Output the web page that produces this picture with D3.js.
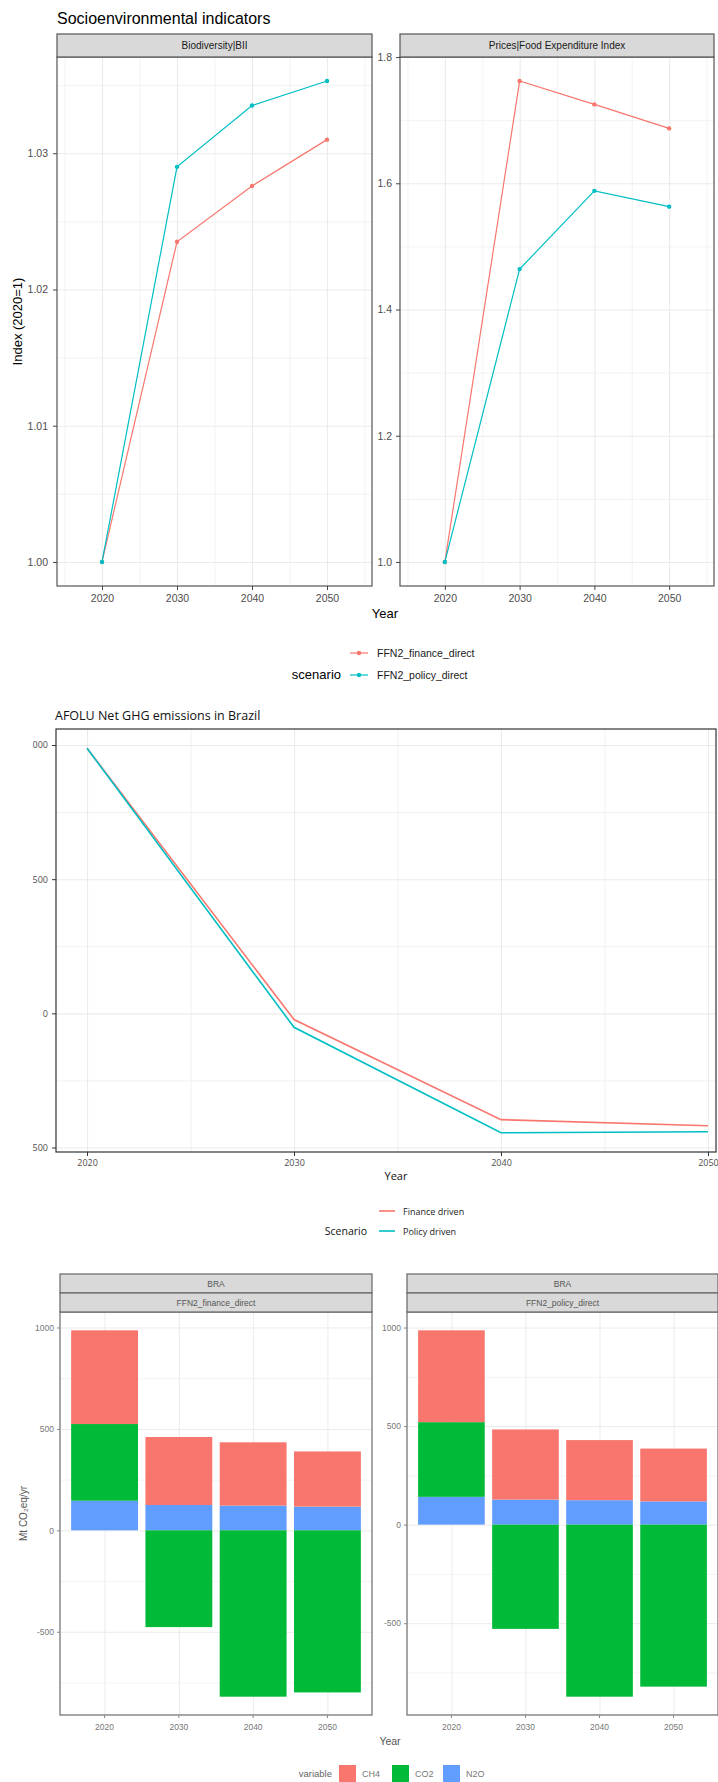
<!DOCTYPE html>
<html>
<head>
<meta charset="utf-8">
<script src="https://cdn.jsdelivr.net/npm/d3@7"></script>
<style>
  body { margin: 0; background: #fff; }
</style>
</head>
<body>
<script>
// ---- data ----
const years = [2020, 2030, 2040, 2050];
const scenarios = ["FFN2_finance_direct", "FFN2_policy_direct"];

const biiFinance = [1.0, 1.0235, 1.0276, 1.031];
const biiPolicy = [1.0, 1.029, 1.0335, 1.0353];
const biiTicks = [1.0, 1.01, 1.02, 1.03];

const foodFinance = [1.0, 1.762, 1.725, 1.687];
const foodPolicy = [1.0, 1.464, 1.588, 1.563];
const foodTicks = [1.0, 1.2, 1.4, 1.6, 1.8];

const ghgScenarios = ["Finance driven", "Policy driven"];
const ghgFinance = [988, -23, -396, -419];
const ghgPolicy = [988, -52, -445, -441];
const ghgTicks = [-500, 0, 500, 1000];

const gases = ["CH4", "CO2", "N2O"];
const financeCH4 = [462, 335, 312, 272];
const financeCO2 = [378, -477, -820, -799];
const financeN2O = [146, 125, 122, 117];
const policyCH4 = [466, 356, 305, 268];
const policyCO2 = [379, -529, -873, -822];
const policyN2O = [141, 127, 124, 118];
const barTicks = [-500, 0, 500, 1000];

const red = "#F8766D", teal = "#00BFC4";
const gasColor = { CH4: "#F8766D", CO2: "#00BA38", N2O: "#619CFF" };

const svg = d3.select("body").append("svg")
  .attr("width", 718)
  .attr("height", 1782);

const defs = svg.append("defs");

function expand(lo, hi, f) {
  const d = (hi - lo) * f;
  return [lo - d, hi + d];
}

// minor breaks halfway between majors (ggplot style)
function minorOf(ticks, dom) {
  const s = ticks[1] - ticks[0], out = [];
  for (let i = -1; i < ticks.length; i++) {
    const v = ticks[0] + s * (i + 0.5);
    if (v > Math.min(dom[0], dom[1]) && v < Math.max(dom[0], dom[1])) out.push(v);
  }
  return out;
}

function grid(g, scale, vals, dir, pos, len, w) {
  const ax = (dir === "x" ? d3.axisBottom(scale) : d3.axisLeft(scale))
    .tickValues(vals).tickFormat("").tickSizeInner(-len).tickSizeOuter(0);
  const gg = g.append("g")
    .attr("transform", dir === "x" ? "translate(0," + pos + ")" : "translate(" + pos + ",0)")
    .call(ax);
  gg.select(".domain").remove();
  gg.selectAll("line").attr("stroke", "#ebebeb").attr("stroke-width", w);
}

function axis(g, scale, vals, dir, pos, fmt, o) {
  const ax = (dir === "x" ? d3.axisBottom(scale) : d3.axisLeft(scale))
    .tickValues(vals).tickFormat(fmt).tickSizeInner(o.tick).tickSizeOuter(0).tickPadding(o.pad);
  const gg = g.append("g")
    .attr("transform", dir === "x" ? "translate(0," + pos + ")" : "translate(" + pos + ",0)")
    .call(ax);
  gg.select(".domain").remove();
  gg.attr("font-family", o.font).attr("font-size", o.size);
  gg.selectAll("line").attr("stroke", o.tickColor);
  gg.selectAll("text").attr("fill", o.color);
  return gg;
}

// ================= chart 1: Socioenvironmental indicators =================
const f1 = "'Liberation Sans', Arial, sans-serif";
const c1 = svg.append("g").attr("font-family", f1);

c1.append("text")
  .attr("x", 57).attr("y", 24)
  .attr("font-size", 16)
  .text("Socioenvironmental indicators");

const c1Panels = [
  { label: "Biodiversity|BII", finance: biiFinance, policy: biiPolicy, ticks: biiTicks, fmt: d3.format(".2f"), left: 57, right: 372, labPad: 5 },
  { label: "Prices|Food Expenditure Index", finance: foodFinance, policy: foodPolicy, ticks: foodTicks, fmt: d3.format(".1f"), left: 400, right: 714, labPad: 4 }
];
const c1Top = 57, c1Bottom = 586;

c1Panels.forEach(p => {
  const g = c1.append("g");
  const x = d3.scaleLinear().domain([2014, 2056]).range([p.left, p.right]);
  const all = p.finance.concat(p.policy);
  const yDom = expand(d3.min(all), d3.max(all), 0.05);
  const y = d3.scaleLinear().domain(yDom).range([c1Bottom, c1Top]);

  g.append("rect").attr("x", p.left).attr("y", c1Top)
    .attr("width", p.right - p.left).attr("height", c1Bottom - c1Top).attr("fill", "#fff");

  grid(g, y, minorOf(p.ticks, yDom), "y", p.left, p.right - p.left, 0.6);
  grid(g, x, minorOf(years, x.domain()), "x", c1Bottom, c1Bottom - c1Top, 0.6);
  grid(g, y, p.ticks, "y", p.left, p.right - p.left, 1.1);
  grid(g, x, years, "x", c1Bottom, c1Bottom - c1Top, 1.1);

  const line = d3.line().x((d, i) => x(years[i])).y(d => y(d));
  [[p.finance, red], [p.policy, teal]].forEach(([vals, col]) => {
    g.append("path").datum(vals)
      .attr("fill", "none").attr("stroke", col).attr("stroke-width", 1.2)
      .attr("d", line);
    g.selectAll(null).data(vals).enter().append("circle")
      .attr("cx", (d, i) => x(years[i])).attr("cy", d => y(d))
      .attr("r", 2.2).attr("fill", col);
  });

  g.append("rect").attr("x", p.left).attr("y", c1Top)
    .attr("width", p.right - p.left).attr("height", c1Bottom - c1Top)
    .attr("fill", "none").attr("stroke", "#555").attr("stroke-width", 1.2);

  // strip
  g.append("rect").attr("x", p.left).attr("y", 34)
    .attr("width", p.right - p.left).attr("height", c1Top - 34)
    .attr("fill", "#d9d9d9").attr("stroke", "#555").attr("stroke-width", 1.2);
  g.append("text").attr("x", (p.left + p.right) / 2).attr("y", 49)
    .attr("text-anchor", "middle").attr("font-size", 10).attr("fill", "#1a1a1a")
    .text(p.label);

  const opt = { tick: 4, pad: p.labPad, font: f1, size: 10.5, tickColor: "#444", color: "#4d4d4d" };
  axis(g, y, p.ticks, "y", p.left, p.fmt, opt);
  axis(g, x, years, "x", c1Bottom, d3.format("d"), { ...opt, pad: 5 });
});

c1.append("text").attr("x", 385).attr("y", 618)
  .attr("text-anchor", "middle").attr("font-size", 13).text("Year");
c1.append("text")
  .attr("transform", "translate(22," + (c1Top + c1Bottom) / 2 + ") rotate(-90)")
  .attr("text-anchor", "middle").attr("font-size", 13).text("Index (2020=1)");

// legend
c1.append("text").attr("x", 341).attr("y", 679)
  .attr("text-anchor", "end").attr("font-size", 13).text("scenario");
scenarios.forEach((s, i) => {
  const yy = 653 + i * 22, col = [red, teal][i];
  c1.append("line").attr("x1", 350).attr("x2", 368).attr("y1", yy).attr("y2", yy)
    .attr("stroke", col).attr("stroke-width", 1.2);
  c1.append("circle").attr("cx", 359).attr("cy", yy).attr("r", 2.2).attr("fill", col);
  c1.append("text").attr("x", 377).attr("y", yy + 4)
    .attr("font-size", 10.5).attr("fill", "#1a1a1a").text(s);
});

// ================= chart 2: AFOLU Net GHG emissions =================
const f2 = "'Open Sans', 'Noto Sans', sans-serif";
const c2 = svg.append("g").attr("font-family", f2);
const p2 = { left: 56, right: 716, top: 729, bottom: 1152 };

c2.append("text").attr("x", 55).attr("y", 720)
  .attr("font-size", 12.5).attr("fill", "#111")
  .text("AFOLU Net GHG emissions in Brazil");

const x2 = d3.scaleLinear().domain([2018.5, 2051.5]).range([56, 739]);
const ghgAll = ghgFinance.concat(ghgPolicy);
const y2Dom = expand(d3.min(ghgAll), d3.max(ghgAll), 0.05);
const y2 = d3.scaleLinear().domain(y2Dom).range([p2.bottom, p2.top]);

defs.append("clipPath").attr("id", "clip2").append("rect")
  .attr("x", p2.left).attr("y", p2.top)
  .attr("width", p2.right - p2.left).attr("height", p2.bottom - p2.top);
defs.append("clipPath").attr("id", "clip2lab").append("rect")
  .attr("x", 33).attr("y", 700).attr("width", 40).attr("height", 480);

const g2 = c2.append("g").attr("clip-path", "url(#clip2)");
grid(g2, y2, minorOf(ghgTicks, y2Dom), "y", p2.left, 700, 0.7);
grid(g2, x2, minorOf(years, x2.domain()), "x", p2.bottom, p2.bottom - p2.top, 0.7);
grid(g2, y2, ghgTicks, "y", p2.left, 700, 1.1);
grid(g2, x2, years, "x", p2.bottom, p2.bottom - p2.top, 1.1);

const line2 = d3.line().x((d, i) => x2(years[i])).y(d => y2(d));
[[ghgFinance, red], [ghgPolicy, teal]].forEach(([vals, col]) => {
  g2.append("path").datum(vals)
    .attr("fill", "none").attr("stroke", col).attr("stroke-width", 1.6)
    .attr("d", line2);
});

c2.append("rect").attr("x", p2.left).attr("y", p2.top)
  .attr("width", p2.right - p2.left).attr("height", p2.bottom - p2.top)
  .attr("fill", "none").attr("stroke", "#333").attr("stroke-width", 1.2);

const opt2 = { tick: 4, pad: 4, font: f2, size: 9, tickColor: "#333", color: "#4d4d4d" };
axis(c2.append("g").attr("clip-path", "url(#clip2lab)"), y2, ghgTicks, "y", p2.left, d => String(d), opt2);
axis(c2, x2, years, "x", p2.bottom, d3.format("d"), opt2);

c2.append("text").attr("x", 396).attr("y", 1180)
  .attr("text-anchor", "middle").attr("font-size", 11).attr("fill", "#111").text("Year");
c2.append("text").attr("x", 367).attr("y", 1235)
  .attr("text-anchor", "end").attr("font-size", 10.5).attr("fill", "#111").text("Scenario");
ghgScenarios.forEach((s, i) => {
  const yy = 1211 + i * 20, col = [red, teal][i];
  c2.append("line").attr("x1", 379).attr("x2", 395).attr("y1", yy).attr("y2", yy)
    .attr("stroke", col).attr("stroke-width", 1.6);
  c2.append("text").attr("x", 403).attr("y", yy + 3.5)
    .attr("font-size", 9).attr("fill", "#222").text(s);
});

// ================= chart 3: stacked bars by gas =================
const f3 = "'Liberation Sans', Arial, sans-serif";
const c3 = svg.append("g").attr("font-family", f3);
const p3Top = 1312, p3Bottom = 1715;

function gasRows(ch4, co2, n2o) {
  return years.map((yr, i) => ({ year: String(yr), CH4: ch4[i], CO2: co2[i], N2O: n2o[i] }));
}
const stack = d3.stack().keys(["N2O", "CO2", "CH4"]).offset(d3.stackOffsetDiverging);

const c3Panels = [
  { label: "FFN2_finance_direct", rows: gasRows(financeCH4, financeCO2, financeN2O), left: 60, right: 372 },
  { label: "FFN2_policy_direct", rows: gasRows(policyCH4, policyCO2, policyN2O), left: 407, right: 718 }
];

c3Panels.forEach((p, k) => {
  const g = c3.append("g");
  const series = stack(p.rows);
  const lo = d3.min(series, s => d3.min(s, d => d[0]));
  const hi = d3.max(series, s => d3.max(s, d => d[1]));
  const yDom = expand(lo, hi, 0.05);
  const y = d3.scaleLinear().domain(yDom).range([p3Bottom, p3Top]);
  const x = d3.scaleBand().domain(years.map(String)).range([p.left, p.right])
    .paddingInner(0.1).paddingOuter(0.15);
  const w = p.right - p.left;

  grid(g, y, minorOf(barTicks, yDom), "y", p.left, w, 0.6);
  grid(g, y, barTicks, "y", p.left, w, 1.0);
  const xc = d3.scalePoint().domain(x.domain()).range([x(x.domain()[0]) + x.bandwidth() / 2, x(x.domain()[3]) + x.bandwidth() / 2]);
  grid(g, xc, xc.domain(), "x", p3Bottom, p3Bottom - p3Top, 1.0);

  g.selectAll(null).data(series).enter().append("g")
    .attr("fill", s => gasColor[s.key])
    .selectAll("rect").data(s => s).enter().append("rect")
    .attr("x", d => x(d.data.year))
    .attr("width", x.bandwidth())
    .attr("y", d => y(Math.max(d[0], d[1])))
    .attr("height", d => Math.abs(y(d[0]) - y(d[1])));

  g.append("rect").attr("x", p.left).attr("y", p3Top)
    .attr("width", w).attr("height", p3Bottom - p3Top)
    .attr("fill", "none").attr("stroke", "#777").attr("stroke-width", 1.3);

  // two strips
  [["BRA", 1274], [p.label, 1293]].forEach(([txt, sy]) => {
    g.append("rect").attr("x", p.left).attr("y", sy).attr("width", w).attr("height", 19)
      .attr("fill", "#d9d9d9").attr("stroke", "#666").attr("stroke-width", 1.2);
    g.append("text").attr("x", (p.left + p.right) / 2).attr("y", sy + 13)
      .attr("text-anchor", "middle").attr("font-size", 8.5).attr("fill", "#555").text(txt);
  });

  const opt3 = { tick: 3, pad: 3, font: f3, size: 8.5, tickColor: "#888", color: "#777" };
  axis(g, y, barTicks, "y", p.left, d => String(d), opt3);
  axis(g, x, x.domain(), "x", p3Bottom, d => d, { ...opt3, pad: 6 });
});

c3.append("text")
  .attr("transform", "translate(27," + (p3Top + p3Bottom) / 2 + ") rotate(-90)")
  .attr("text-anchor", "middle").attr("font-size", 10).attr("fill", "#555")
  .text("Mt CO\u2082eq/yr");
c3.append("text").attr("x", 390).attr("y", 1745)
  .attr("text-anchor", "middle").attr("font-size", 10.5).attr("fill", "#555").text("Year");

c3.append("text").attr("x", 332).attr("y", 1777)
  .attr("text-anchor", "end").attr("font-size", 9.5).attr("fill", "#666").text("variable");
const gasKeyX = { CH4: 339, CO2: 392, N2O: 443 };
gases.forEach(gs => {
  c3.append("rect").attr("x", gasKeyX[gs]).attr("y", 1765).attr("width", 17).attr("height", 17)
    .attr("fill", gasColor[gs]);
  c3.append("text").attr("x", gasKeyX[gs] + 23).attr("y", 1777)
    .attr("font-size", 9).attr("fill", "#777").text(gs);
});
</script>
</body>
</html>
